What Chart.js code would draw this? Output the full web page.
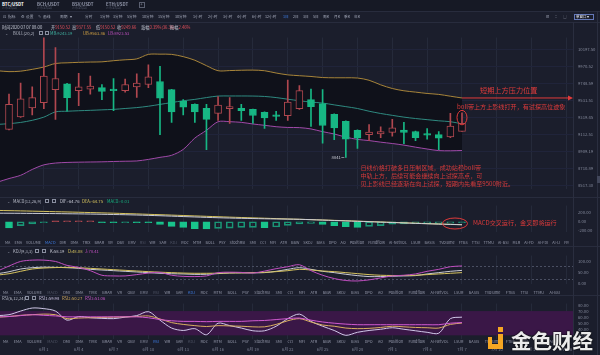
<!DOCTYPE html>
<html>
<head>
<meta charset="utf-8">
<title>BTC/USDT 日线</title>
<script src="https://cdn.jsdelivr.net/npm/chart.js"></script>
<style>
  html, body { margin: 0; padding: 0; }
  body { width: 600px; height: 355px; overflow: hidden; position: relative; background: #1b1e2c;
         font-family: "Noto Sans CJK SC", "Noto Sans", sans-serif; }
  canvas { position: absolute; left: 0; }
  .t { position: absolute; white-space: nowrap; line-height: 1; }
  .hl { position: absolute; left: 0; width: 600px; height: 1px; background: #282c3d; }
  .vl { position: absolute; width: 1px; background: #2a2e3f; }
  .box { position: absolute; border: 0.6px solid #8a8fa0; box-sizing: border-box; }
  .row { position: absolute; display: flex; justify-content: space-between; line-height: 1;
         font-size: 3.8px; color: #9498aa; white-space: nowrap; }
</style>
</head>
<body>
<div class="hl" style="top:0;height:11px;background:#161925"></div>
<div class="hl" style="top:11px"></div>
<div class="hl" style="top:22px"></div>
<div class="hl" style="top:197px"></div>
<div class="hl" style="top:246px"></div>
<div class="hl" style="top:295px"></div>
<canvas id="main" width="600" height="167" style="top:30px"></canvas>
<canvas id="macd" width="600" height="42" style="top:198px"></canvas>
<canvas id="kdj" width="600" height="44" style="top:248px"></canvas>
<canvas id="rsi" width="600" height="59" style="top:296px"></canvas>
<div class="vl" style="left:573px;top:22px;height:333px"></div>
<div class="vl" style="left:597px;top:11px;height:344px"></div>
<div id="chrome"></div>
<script>
// daily candles, 5/28 .. 7/16 (5/28 only carries indicator values at the left edge)
const dates = ['5/28','5/29','5/30','5/31',
  '6/1','6/2','6/3','6/4','6/5','6/6','6/7','6/8','6/9','6/10','6/11','6/12','6/13','6/14','6/15',
  '6/16','6/17','6/18','6/19','6/20','6/21','6/22','6/23','6/24','6/25','6/26','6/27','6/28','6/29','6/30',
  '7/1','7/2','7/3','7/4','7/5','7/6','7/7','7/8','7/9','7/10','7/11','7/12','7/13','7/14','7/15','7/16'];

// candles 5/29 .. 7/7
const candleOpen = [9175, 9327, 9440, 9504, 9669, 9743, 9658, 9676, 9696, 9676,
  9658, 9704, 9735, 9774, 9669, 9523, 9485, 9435, 9372, 9429,
  9435, 9421, 9384, 9345, 9343, 9429, 9543, 9492, 9361, 9275,
  9164, 9113, 9120, 9139, 9167, 9150, 9120, 9113, 9084, 9150.52];
const candleHigh = [9612, 9754, 9704, 10380, 10222, 9750, 9881, 9845, 9735, 9813,
  9805, 9872, 9991, 9971, 9675, 9543, 9490, 9485, 9580, 9569,
  9485, 9425, 9390, 9398, 9793, 9723, 9676, 9669, 9365, 9280,
  9170, 9234, 9205, 9297, 9260, 9155, 9186, 9150, 9372, 9377.55];
const candleLow = [9170, 9320, 9353, 9429, 9297, 9398, 9466, 9612, 9543, 9406,
  9638, 9572, 9696, 9113, 9260, 9353, 9260, 8933, 9286, 9249,
  9286, 9249, 9186, 9286, 9286, 9421, 9211, 9011, 9052, 8841,
  8947, 9041, 9077, 9095, 9004, 9041, 9058, 8933, 9077, 9150.52];
const candleClose = [9485, 9554, 9569, 9845, 9813, 9569, 9704, 9716, 9646, 9658,
  9735, 9754, 9833, 9561, 9390, 9447, 9390, 9297, 9474, 9455,
  9406, 9345, 9316, 9334, 9512, 9658, 9455, 9223, 9192, 9058,
  9071, 9142, 9150, 9194, 9139, 9077, 9106, 9069, 9216, 9249.66];

// BOLL(20,2), 5/28 .. 7/7
const bollUp = [9914, 9902, 9908, 9932, 9962, 10009, 10018, 10024, 10028, 10031, 10046,
  10058, 10070, 10130, 10133, 10130, 10100, 10052, 9980, 9914, 9916,
  9920, 9922, 9914, 9884, 9860, 9849, 9839, 9825, 9822, 9822,
  9819, 9790, 9731, 9684, 9655, 9638, 9621, 9609, 9586, 9563.86];
const bollMid = [9236, 9245, 9260, 9286, 9325, 9390, 9398, 9404, 9409, 9415, 9421,
  9432, 9443, 9460, 9483, 9506, 9529, 9546, 9569, 9588, 9589,
  9589, 9588, 9583, 9569, 9548, 9529, 9512, 9500, 9477, 9455,
  9432, 9398, 9370, 9347, 9325, 9308, 9294, 9280, 9269, 9243.19];
const bollLow = [8558, 8599, 8636, 8703, 8756, 8777, 8784, 8787, 8789, 8791, 8795,
  8798, 8801, 8819, 8843, 8867, 8936, 9071, 9164, 9269, 9269,
  9261, 9241, 9225, 9208, 9199, 9197, 9181, 9148, 9120, 9082,
  9055, 9041, 9022, 9006, 8987, 8963, 8941, 8922, 8920, 8923.53];

// MACD(12,26,9)
const macdDif = [189, 188, 186, 184, 182, 180, 177, 174, 170, 165, 160,
  155, 149, 141, 133, 124, 115, 106, 97, 89, 82,
  76, 71, 66, 62, 58, 54, 46, 37, 28, 19,
  10, 1, -8, -17, -26, -35, -44, -52, -59, -64.76];
const macdDea = [250, 245, 240, 234, 228, 222, 216, 210, 203, 196, 189,
  181, 173, 164, 156, 147, 138, 129, 120, 111, 102,
  94, 86, 78, 70, 62, 55, 47, 39, 31, 23,
  14, 5, -4, -13, -22, -31, -40, -49, -57, -64.75];
const macdHist = [-133, -85, -50, -8, 15, 8, 8, 8, -10, -15,
  -12, -15, -18, -60, -100, -125, -150, -160, -145, -140,
  -125, -125, -130, -115, -80, -45, -35, -60, -85, -110,
  -125, -100, -85, -55, -50, -40, -40, -35, -30, -0.01];

// KDJ(9,3,3)
const kdjK = [43, 52, 64.5, 70.5, 73, 72, 70.5, 67.5, 63, 60, 57,
  54, 51, 48, 45, 43, 42, 40, 40.5, 43.5, 46.5,
  47, 47, 48, 54, 63, 70.5, 63, 54, 48, 40.5,
  34.5, 30, 30, 31.5, 33, 34.5, 42, 48, 54, 58.19];
const kdjD = [37, 43, 54, 64.5, 69, 71, 72, 70.5, 67.5, 64.5, 61.5,
  58.5, 55.5, 52.5, 50, 48, 46, 45, 45, 45.5, 46.5,
  47, 48, 49.5, 52.5, 57, 63, 60, 55.5, 52.5, 48,
  43.5, 39, 36, 35, 35, 36, 39, 42, 45, 48.08];
const kdjJ = [55, 78, 99, 105, 105, 99, 81, 72, 57, 36, 33,
  33, 39, 46, 49, 36, 31, 30, 33, 48, 50,
  49, 46, 55, 66, 75, 84, 57, 36, 21, 12,
  10, 15, 24, 33, 36, 42, 54, 63, 75, 78.41];

// RSI(6,12,24)
const rsi1 = [62.5, 64, 70, 75, 74, 70, 55, 61, 59, 58, 57.5,
  60, 62.5, 69, 55, 42, 38, 41, 31, 50, 46,
  42, 37.5, 37.5, 45, 57.5, 65, 53, 45, 38, 30,
  35, 38, 40, 42.5, 40, 37.5, 35, 33.5, 57.5, 59.98];
const rsi2 = [60, 61, 63, 64, 65, 64, 57.5, 58.5, 59, 59.5, 60,
  60.5, 61, 62, 57, 51, 48, 46, 44.5, 46, 45.5,
  45, 44, 44, 48, 54, 57.5, 52, 47, 45, 42,
  41, 41.5, 43, 45, 44, 43, 42.5, 42, 48, 50.27];
const rsi3 = [60.5, 61, 62.5, 64, 63, 62, 60.5, 60.5, 60.5, 60.5, 60.5,
  60.5, 60.5, 59, 56, 54, 53, 53, 52.5, 53, 53,
  53, 54, 54.5, 56, 57.5, 58.5, 55, 52, 50, 48.5,
  47.5, 47.5, 47.5, 47.5, 47.5, 47.5, 47.5, 47.5, 50, 51.06];

const priceTicks = [10197.50, 9970.52, 9748.59, 9531.51, 9319.45, 9112.51, 8909.19, 8710.89, 8517.30];
const macdTicks = [200, 0, -200];
const kdjTicks = [100, 50, 0];
const kdjGuides = [80, 20];
const rsiTicks = [80, 70, 60, 50, 40, 30];
const rsiBand = [30, 70];
const dateTicks = [4, 7, 10, 13, 16, 19, 22, 25, 28, 31, 34, 37, 40, 43, 46, 49];

const FONT = '"Noto Sans CJK SC", "Noto Sans", sans-serif';
const UP = '#b0474f', DOWN = '#17b784', BAND = '#0f111a', NOTE = '#e03b3b';
const GRID = '#252a3a';
Chart.defaults.font.family = FONT;

const line = (arr, color, order) => ({
  type: 'line', data: arr.map((v, j) => ({x: j, y: v})), borderColor: color, borderWidth: 1,
  pointRadius: 0, tension: 0.3, fill: false, order: order || 0
});

function xScale(labels) {
  return {
    type: 'linear', min: 0.225, max: 49.558, offset: false,
    grid: { color: GRID, drawTicks: false, offset: false },
    border: { display: false },
    ticks: {
      display: labels, padding: 8, color: '#7d8294', font: { size: 4 }, maxRotation: 0, autoSkip: false,
      callback: v => { const d = dates[v]; if (!d) return ''; const p = d.split('/'); return p[0] + '月 ' + p[1]; }
    },
    afterBuildTicks: s => { s.ticks = dateTicks.map(v => ({ value: v })); },
    afterFit: s => { s.height = labels ? 16 : 0; }
  };
}
function yScale(ticks, extra) {
  return Object.assign({
    position: 'right',
    grid: { display: false, drawTicks: false },
    border: { display: false },
    ticks: { color: '#858a9c', padding: 5, font: { size: 4.2 }, autoSkip: false,
             callback: v => Number(v).toFixed(2) },
    afterBuildTicks: s => { s.ticks = ticks.map(v => ({ value: v })); },
    afterFit: s => { s.width = 27; }
  }, extra);
}
const baseOpts = {
  responsive: false, animation: false, devicePixelRatio: 1, events: [],
  layout: { padding: 0, autoPadding: false },
  plugins: { legend: { display: false }, tooltip: { enabled: false } }
};

const isUp = i => candleClose[i] >= candleOpen[i];

// --- annotations on the price chart
const mainNotes = {
  id: 'mainNotes',
  afterDatasetsDraw(chart) {
    const { ctx, chartArea: a, scales: { x, y } } = chart;
    const last = candleClose.length - 1;
    const xl = x.getPixelForValue(last + 1);
    const yUb = y.getPixelForValue(bollUp[bollUp.length - 1]);
    ctx.save();
    ctx.strokeStyle = NOTE; ctx.fillStyle = NOTE; ctx.lineWidth = 1;
    ctx.beginPath(); ctx.moveTo(xl, yUb); ctx.lineTo(a.right - 3, yUb); ctx.stroke();
    ctx.beginPath(); ctx.moveTo(a.right, yUb); ctx.lineTo(a.right - 5, yUb - 2.5); ctx.lineTo(a.right - 5, yUb + 2.5);
    ctx.closePath(); ctx.fill();
    ctx.textBaseline = 'middle'; ctx.textAlign = 'left';
    ctx.font = '7.2px ' + FONT;
    ctx.fillText('短期上方压力位置', xl + 18, yUb - 8);

    const yH = y.getPixelForValue(candleHigh[last]);
    const yB = y.getPixelForValue(Math.max(candleOpen[last], candleClose[last]));
    ctx.beginPath(); ctx.ellipse(xl, (yH + yB) / 2 - 0.5, 5, 7.2, 0, 0, Math.PI * 2); ctx.stroke();
    ctx.font = '6.1px ' + FONT;
    ctx.fillText('boll带上方上影线打开，有试探高位迹象', xl - 5, yH - 6.5);

    // lowest low marker
    let lo = 0;
    candleLow.forEach((v, i) => { if (v < candleLow[lo]) lo = i; });
    const xLo = x.getPixelForValue(lo + 1), yLo = y.getPixelForValue(candleLow[lo]);
    ctx.fillStyle = '#c8cad4'; ctx.strokeStyle = '#c8cad4'; ctx.lineWidth = 0.6;
    ctx.font = '4.2px ' + FONT; ctx.textAlign = 'right';
    ctx.fillText(String(Math.round(candleLow[lo])), xLo - 5, yLo);
    ctx.beginPath(); ctx.moveTo(xLo - 4.5, yLo); ctx.lineTo(xLo - 1.5, yLo); ctx.stroke();

    ctx.fillStyle = '#d43a3a'; ctx.textAlign = 'left'; ctx.font = '6.1px ' + FONT;
    const tx = x.getPixelForValue(lo + 2) + 3;
    ctx.fillText('日线价格打破多日压制区域，成功站稳boll带', tx, yLo + 10);
    ctx.fillText('中轨上方，后续可能会继续向上试探高点，可', tx, yLo + 18);
    ctx.fillText('见上影线已经逐渐在向上试探，短期内先看至9500附近。', tx, yLo + 25.7);
    ctx.restore();
  }
};

new Chart(document.getElementById('main'), {
  type: 'bar',
  data: {
    datasets: [
      Object.assign(line(bollUp, '#a8853a', 5), { fill: 2, backgroundColor: BAND }),
      line(bollMid, '#2f8a80', 4),
      line(bollLow, '#a04aa8', 3),
      {
        type: 'bar', grouped: false, order: 2, barThickness: 1,
        data: candleLow.map((l, i) => ({ x: i + 1, y: [l, candleHigh[i]] })),
        backgroundColor: c => (c.dataIndex !== undefined && isUp(c.dataIndex)) ? UP : DOWN
      },
      {
        type: 'bar', grouped: false, order: 1, barThickness: 7, borderWidth: 1, borderSkipped: false, minBarLength: 1.5,
        data: candleOpen.map((o, i) => ({ x: i + 1, y: [o, candleClose[i]] })),
        backgroundColor: c => (c.dataIndex !== undefined && isUp(c.dataIndex)) ? BAND : DOWN,
        borderColor: c => (c.dataIndex !== undefined && isUp(c.dataIndex)) ? UP : DOWN
      }
    ]
  },
  options: Object.assign({}, baseOpts, {
    scales: {
      x: xScale(false),
      y: yScale(priceTicks, { type: 'logarithmic', min: 8476, max: 10358,
                              grid: { display: true, color: '#20243a', drawTicks: false } })
    }
  }),
  plugins: [mainNotes]
});

// --- MACD
const histHollow = i => i > 0 && Math.sign(macdHist[i]) === Math.sign(macdHist[i - 1]) &&
  Math.abs(macdHist[i]) <= Math.abs(macdHist[i - 1]);
const macdNotes = {
  id: 'macdNotes',
  afterDatasetsDraw(chart) {
    const { ctx, scales: { x, y } } = chart;
    const xl = x.getPixelForValue(macdHist.length);
    const yd = y.getPixelForValue(macdDif[macdDif.length - 1]);
    ctx.save();
    ctx.strokeStyle = NOTE; ctx.fillStyle = NOTE; ctx.lineWidth = 1;
    ctx.beginPath(); ctx.ellipse(xl - 7, yd - 1.2, 12.5, 5.5, 0, 0, Math.PI * 2); ctx.stroke();
    ctx.font = '6.1px ' + FONT; ctx.textBaseline = 'middle';
    ctx.fillText('MACD交叉运行，金叉即将运行', xl + 11, yd - 2);
    ctx.restore();
  }
};
new Chart(document.getElementById('macd'), {
  type: 'bar',
  data: {
    datasets: [
      line(macdDea, '#d6c35e', 1),
      line(macdDif, '#c9cbd6', 0),
      {
        type: 'bar', order: 2, barThickness: 7, borderWidth: 1, borderSkipped: false, minBarLength: 1,
        data: macdHist.map((v, i) => ({ x: i + 1, y: v })),
        backgroundColor: c => {
          const i = c.dataIndex; if (i === undefined) return DOWN;
          return histHollow(i) ? 'rgba(0,0,0,0)' : (macdHist[i] >= 0 ? UP : '#19c48c');
        },
        borderColor: c => {
          const i = c.dataIndex; if (i === undefined) return DOWN;
          return macdHist[i] >= 0 ? UP : (histHollow(i) ? '#1a9676' : '#19c48c');
        }
      }
    ]
  },
  options: Object.assign({}, baseOpts, {
    scales: { x: xScale(false), y: yScale(macdTicks, { min: -236, max: 358 }) }
  }),
  plugins: [macdNotes]
});

// --- KDJ
const kdjLines = {
  id: 'kdjLines',
  beforeDatasetsDraw(chart) {
    const { ctx, chartArea: a, scales: { y } } = chart;
    ctx.save(); ctx.strokeStyle = '#4a4f62'; ctx.lineWidth = 1; ctx.setLineDash([2, 2]);
    kdjGuides.forEach(v => {
      const p = Math.round(y.getPixelForValue(v)) + 0.5;
      ctx.beginPath(); ctx.moveTo(a.left, p); ctx.lineTo(a.right, p); ctx.stroke();
    });
    ctx.restore();
  }
};
new Chart(document.getElementById('kdj'), {
  type: 'line',
  data: { datasets: [line(kdjJ, '#c04fc0'), line(kdjD, '#d6c35e'), line(kdjK, '#c9cbd6')] },
  options: Object.assign({}, baseOpts, {
    scales: { x: xScale(false), y: yScale(kdjTicks, { min: -6, max: 126 }) }
  }),
  plugins: [kdjLines]
});

// --- RSI
const rsiFill = {
  id: 'rsiFill',
  beforeDatasetsDraw(chart) {
    const { ctx, chartArea: a, scales: { y } } = chart;
    const top = y.getPixelForValue(rsiBand[1]), bot = y.getPixelForValue(rsiBand[0]);
    ctx.save(); ctx.fillStyle = '#3a1747'; ctx.fillRect(a.left, top, a.right - a.left, bot - top); ctx.restore();
  }
};
new Chart(document.getElementById('rsi'), {
  type: 'line',
  data: { datasets: [line(rsi3, '#d05ad0'), line(rsi2, '#d9b060'), line(rsi1, '#d0c8e8')] },
  options: Object.assign({}, baseOpts, {
    layout: { padding: { top: 4 }, autoPadding: false },
    scales: { x: xScale(true), y: yScale(rsiTicks, { min: 23.95, max: 82.45 }) }
  }),
  plugins: [rsiFill]
});

// --- page chrome (tabs, toolbar, indicator headers)
const chrome = document.getElementById('chrome');
function put(text, x, y, size, color, weight) {
  const s = document.createElement('span');
  s.className = 't'; s.textContent = text;
  s.style.left = x + 'px'; s.style.top = (y - size / 2) + 'px';
  s.style.fontSize = size + 'px'; s.style.color = color;
  if (weight) s.style.fontWeight = weight;
  chrome.appendChild(s); return s;
}
function box(x, y, w, h, color) {
  const d = document.createElement('div');
  d.className = 'box';
  Object.assign(d.style, { left: x + 'px', top: y + 'px', width: w + 'px', height: h + 'px' });
  if (color) d.style.borderColor = color;
  chrome.appendChild(d); return d;
}

[['BTC/USDT', 2, '#ffffff'], ['BCH/USDT', 37, '#8d92a5'], ['BSV/USDT', 72, '#8d92a5'], ['ETH/USDT', 106, '#8d92a5']]
  .forEach(t => { put(t[0], t[1], 4.2, 4.4, t[2], 700); put('火币全球站', t[1], 8.4, 3, '#4b5062'); });
box(139, 2, 5.5, 5.5, '#5a5f70'); put('+', 140.3, 4.6, 4.4, '#8d92a5');

const tb = '#a4a9ba';
[['⊡', 3], ['指标', 8], ['⚙', 21], ['设置', 26], ['✎', 38], ['画线', 43], ['周期', 60], ['▾', 70],
 ['分时', 85], ['1分钟', 100], ['3分钟', 113], ['5分钟', 127], ['10分钟', 142], ['15分钟', 158], ['30分钟', 175],
 ['1小时', 193], ['2小时', 208], ['3小时', 223], ['4小时', 237], ['6小时', 252], ['12小时', 265],
 ['2日', 293], ['3日', 303], ['5日', 313], ['周K', 323], ['月K', 334], ['季K', 344], ['年K', 354],
 ['ln', 546], ['⁚⁚', 555], ['▢', 563]]
  .forEach(t => put(t[0], t[1], 16.8, 3.7, tb));
put('1日', 283, 16.8, 3.7, '#3f7fe8');
box(574, 14, 20, 6, '#6478b8'); put('单窗口 ▾', 576, 17, 3.5, '#e8eaf0');

const lab = '#c4c8d4', val = '#e5505b';
put('时间2020 07 07 08:00', 2, 26.7, 4.2, lab);
[['开', '9150.52', 51], ['高', '9377.55', 72], ['低', '9150.52', 96], ['收', '9249.66', 117],
 ['涨幅', '0.39%(36.36)', 141], ['振幅', '2.46%', 170]].forEach(t => {
  const s = put(t[0], t[2], 26.7, 4.2, lab);
  const v = document.createElement('span'); v.textContent = t[1]; v.style.color = val; s.appendChild(v);
});

put('⌄', 5, 33.3, 4.2, '#8a8fa0'); put('BOLL(20,2)', 13, 33.3, 4.2, '#b9bdca');
box(39, 31.3, 4, 4); box(45, 31.3, 4, 4);
put('MB:9243.19', 50, 33.3, 4.2, '#3fb1a0'); put('UB:9563.86', 83, 33.3, 4.2, '#d2a143');
put('LB:8923.53', 108, 33.3, 4.2, '#c452c4');

put('⌄', 7, 201, 4.2, '#8a8fa0'); put('MACD(12,26,9)', 13, 201, 4.2, '#b9bdca');
box(45, 199, 4, 4); box(52, 199, 4, 4);
put('DIF:-64.76', 60, 201, 4.2, '#c9cbd6'); put('DEA:-64.75', 82, 201, 4.2, '#d6c35e');
put('MACD:-0.01', 107, 201, 4.2, '#16b582');

put('⌄', 7, 251, 4.2, '#8a8fa0'); put('KDJ(9,3,3)', 13, 251, 4.2, '#b9bdca');
box(35, 249, 4, 4); box(42, 249, 4, 4);
put('K:58.19', 50, 251, 4.2, '#c9cbd6'); put('D:48.08', 68, 251, 4.2, '#d6c35e'); put('J:78.41', 85, 251, 4.2, '#c04fc0');

put('RSI(6,12,24)', 2, 298.3, 4.2, '#b9bdca');
box(25, 296.3, 4, 4); box(32, 296.3, 4, 4);
put('RSI1:59.98', 39, 298.3, 4.2, '#d0c8e8'); put('RSI2:50.27', 62, 298.3, 4.2, '#d9b060');
put('RSI3:51.06', 85, 298.3, 4.2, '#d05ad0');

const indicatorNames = ['MA', 'EMA', 'VOLUME', 'MACD', 'DMI', 'DMA', 'TRIX', 'BRAR', 'VR', 'OBV', 'EMV', 'RSI',
  'WR', 'SAR', 'KDJ', 'ROC', 'MTM', 'BOLL', 'PSY', 'StochRSI', 'SMI', 'CCI', 'MFI', 'ATR', 'BBW', 'SKDJ', 'BIAS',
  'DPO', 'AO', 'Position', 'Fundflow', 'AI-NetVOL', 'LSUR', 'BASIS', 'TVolume', 'FTBS', 'TTSI', 'TTMU', 'AI-BSI',
  'MLR', 'AI-FD', 'AI-FDI', 'AI-IJ', 'FR'];
function indicatorRow(x, y, w, count, active) {
  const r = document.createElement('div');
  r.className = 'row';
  Object.assign(r.style, { left: x + 'px', top: (y - 1.9) + 'px', width: w + 'px' });
  indicatorNames.slice(0, count).forEach(n => {
    const s = document.createElement('span'); s.textContent = n;
    if (n === active) s.style.color = '#3f7fe8';
    else if (['MACD', 'KDJ', 'RSI'].includes(n)) s.style.color = '#505566';
    r.appendChild(s);
  });
  chrome.appendChild(r);
}
indicatorRow(5, 243, 564, 44, 'MACD');
indicatorRow(3, 292.7, 557, 39, 'KDJ');
indicatorRow(3, 342.3, 557, 39, 'RSI');

const sb = document.createElement('div');
Object.assign(sb.style, { position: 'absolute', left: '597px', top: '176px', width: '2.5px', height: '7px', background: '#41465a' });
chrome.appendChild(sb);

// watermark
const wm = document.createElement('div');
wm.innerHTML =
  '<div style="position:absolute;left:498px;top:327px;width:5px;height:5px;background:#f5a623"></div>' +
  '<div style="position:absolute;left:498px;top:334px;width:5px;height:15px;background:#f5a623"></div>' +
  '<div style="position:absolute;left:488px;top:344px;width:15px;height:5px;background:#f5a623"></div>' +
  '<div style="position:absolute;left:488px;top:337px;width:4px;height:12px;background:#f5a623"></div>' +
  '<div class="t" style="left:511px;top:330px;font-size:20.5px;font-weight:700;color:rgba(255,255,255,0.92);' +
  'text-shadow:0 0 2px #000,0 0 1px #000">金色财经</div>';
chrome.appendChild(wm);
</script>
</body>
</html>
